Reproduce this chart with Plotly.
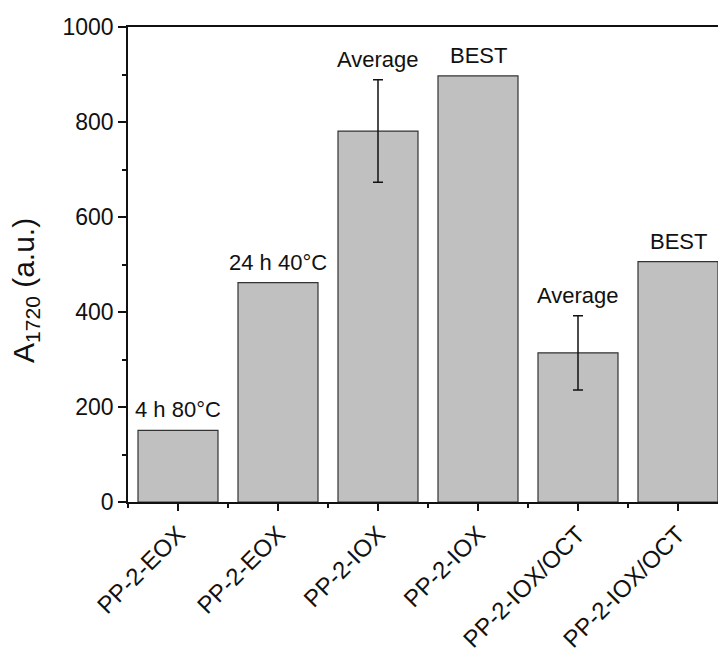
import plotly.graph_objects as go

categories = ["PP-2-EOX", "PP-2-EOX", "PP-2-IOX", "PP-2-IOX", "PP-2-IOX/OCT", "PP-2-IOX/OCT"]
values = [151, 462, 781, 897, 314, 506]
errors = [0, 0, 108, 0, 78, 0]
bar_labels = ["4 h 80°C", "24 h 40°C", "Average", "BEST", "Average", "BEST"]
y_ticks = [0, 200, 400, 600, 800, 1000]
y_title = "A<sub>1720</sub> (a.u.)"

FONT = "Liberation Sans, Arial, sans-serif"
INK = "#111111"
xs = list(range(len(categories)))

fig = go.Figure()
fig.add_trace(go.Bar(
    x=xs, y=values, width=0.8,
    marker=dict(color="#c0c0c0", line=dict(color="#333333", width=1.2)),
    showlegend=False, hoverinfo="skip",
))

# error bars only where an error is given
ex = [x for x, e in zip(xs, errors) if e > 0]
ey = [v for v, e in zip(values, errors) if e > 0]
ee = [e for e in errors if e > 0]
fig.add_trace(go.Scatter(
    x=ex, y=ey, mode="markers", marker=dict(size=1, color="rgba(0,0,0,0)"),
    error_y=dict(type="data", array=ee, visible=True, color=INK, thickness=1.5, width=5),
    showlegend=False, hoverinfo="skip",
))

for x, v, e, t in zip(xs, values, errors, bar_labels):
    fig.add_annotation(x=x, y=v + e, text=t, showarrow=False, yanchor="bottom",
                       yshift=6, font=dict(family=FONT, size=22, color=INK))

# y-axis title
fig.add_annotation(xref="paper", yref="paper", x=-0.175, y=0.446, text=y_title,
                   textangle=-90, showarrow=False, xanchor="center", yanchor="middle",
                   font=dict(family=FONT, size=30, color=INK))

fig.update_layout(
    width=718, height=654,
    margin=dict(l=128, r=0, t=27, b=152),
    plot_bgcolor="white", paper_bgcolor="white",
    font=dict(family=FONT, color=INK),
)
fig.update_xaxes(
    range=[-0.5, 5.4], tickvals=xs, ticktext=categories, tickangle=-45,
    automargin=False,
    showgrid=False, zeroline=False,
    showline=True, linecolor=INK, linewidth=1.5, mirror=True,
    ticks="outside", ticklen=7, tickwidth=1.5, tickcolor=INK,
    ticklabelstandoff=0,
    tickfont=dict(family=FONT, size=24, color=INK),
    minor=dict(tickvals=[-0.5, 0.5, 1.5, 2.5, 3.5, 4.5], ticks="outside", ticklen=4,
               tickwidth=1.5, tickcolor=INK, showgrid=False),
)
fig.update_yaxes(
    range=[0, 1000], tickvals=y_ticks,
    automargin=False,
    showgrid=False, zeroline=False,
    showline=True, linecolor=INK, linewidth=1.5,
    ticks="outside", ticklen=8, tickwidth=1.5, tickcolor=INK,
    tickfont=dict(family=FONT, size=23, color=INK),
    minor=dict(dtick=100, tick0=0, ticks="outside", ticklen=4, tickwidth=1.5,
               tickcolor=INK, showgrid=False),
)

fig.write_html("out.html")
